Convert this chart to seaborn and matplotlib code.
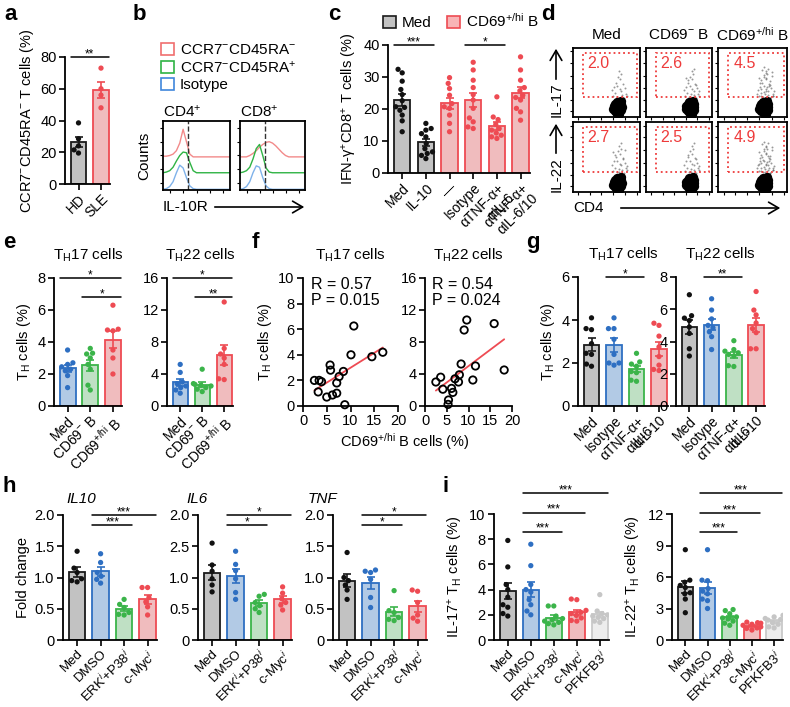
import numpy as np
import pandas as pd
import matplotlib
matplotlib.use('agg')
import matplotlib.pyplot as plt
from matplotlib.patches import Patch, Rectangle, FancyArrowPatch
import seaborn as sns

sns.set_style('ticks')
plt.rcParams['font.family'] = ['Liberation Sans', 'DejaVu Sans']
plt.rcParams['mathtext.fontset'] = 'custom'
plt.rcParams['mathtext.rm'] = 'Liberation Sans'
plt.rcParams['mathtext.it'] = 'Liberation Sans:italic'
plt.rcParams['mathtext.bf'] = 'Liberation Sans:bold'
plt.rcParams['axes.linewidth'] = 1.3
plt.rcParams['axes.edgecolor'] = 'k'
plt.rcParams['text.color'] = 'k'
plt.rcParams['axes.labelcolor'] = 'k'
plt.rcParams['xtick.color'] = 'k'
plt.rcParams['ytick.color'] = 'k'
plt.rcParams['xtick.major.width'] = 1.2
plt.rcParams['ytick.major.width'] = 1.2
plt.rcParams['xtick.major.size'] = 4
plt.rcParams['ytick.major.size'] = 4

# ---------------- data ----------------
# a
a_cats = ['HD', 'SLE']
a_hd = [38.5, 28.5, 24.0, 21.5, 19.5]
a_sle = [73.0, 60.0, 56.0, 48.0]

# b (histogram traces, % of box)
hist_x = [0, 5, 10, 15, 20, 25, 30, 35, 40, 45, 50, 55, 60, 65, 70, 75, 80, 85, 90, 95, 100]
b_cd4_red = [49, 49, 50, 52, 57, 68, 88, 70, 52, 48, 48, 48, 48, 48, 48, 48, 48, 48, 48, 48, 48]
b_cd4_green = [25, 26, 28, 33, 42, 50, 55, 54, 40, 28, 25, 25, 25, 25, 25, 25, 25, 25, 25, 25, 25]
b_cd4_blue = [1, 2, 5, 12, 25, 36, 32, 18, 6, 2, 1, 1, 1, 1, 1, 1, 1, 1, 1, 1, 1]
b_cd8_red = [48, 48, 48, 50, 53, 57, 62, 66, 69, 70, 68, 64, 59, 54, 50, 48, 48, 48, 48, 48, 48]
b_cd8_green = [25, 26, 28, 33, 45, 60, 66, 50, 32, 26, 25, 25, 25, 25, 25, 25, 25, 25, 25, 25, 25]
b_cd8_blue = [1, 2, 5, 12, 25, 35, 33, 18, 6, 2, 1, 1, 1, 1, 1, 1, 1, 1, 1, 1, 1]
b_gate = [38, 39]
b_labels = ['CCR7$^{-}$CD45RA$^{-}$', 'CCR7$^{-}$CD45RA$^{+}$', 'Isotype']

# c
c_cats = ['Med', 'IL-10', '—', 'Isotype', 'αTNF-α+\nαIL-6', 'αTNF-α+\nαIL-6/10']
c_med = [32.4, 31.3, 28.7, 26.1, 24.5, 22.6, 20.7, 20.5, 19.6, 18.1, 16.3, 12.9]
c_il10 = [15.5, 13.9, 13.4, 12.3, 11.3, 9.2, 7.6, 6.6, 6.1, 5.5, 4.5]
c_none = [29.8, 28.0, 26.4, 24.3, 21.7, 20.7, 20.2, 18.1, 15.5, 12.9]
c_iso = [34.6, 32.2, 29.0, 26.7, 24.5, 22.8, 20.2, 17.2, 16.0, 14.4, 13.9]
c_tnf6 = [23.8, 17.5, 16.7, 15.2, 13.9, 13.4, 12.5, 11.8, 11.3, 10.8]
c_tnf610 = [36.3, 32.2, 29.0, 26.7, 25.7, 24.3, 23.6, 22.8, 20.2, 19.1, 16.5]

# d (gate percentages and hand-placed events, % of box)
d_cols = ['Med', 'CD69$^{-}$ B', 'CD69$^{+/\\mathrm{hi}}$ B']
d_il17 = [2.0, 2.6, 4.5]
d_il22 = [2.7, 2.5, 4.9]
blob_x = [60, 63, 66, 69, 72, 61, 64, 67, 70, 73, 63, 66, 69, 72, 65, 68, 71, 66, 69]
blob_y = [12, 9, 7, 8, 10, 16, 14, 13, 13, 15, 19, 18, 18, 19, 22, 22, 23, 5, 5]
tail_x = [68, 73, 62, 76, 70, 59, 79, 66, 72, 64, 70, 77, 61, 71, 67, 80, 58, 69, 74, 65,
          63, 72, 81, 68, 75, 60, 78, 66, 62, 73, 70, 57, 76, 64, 71, 66, 79, 69, 74, 61,
          70, 75, 63, 78, 67, 72, 59, 74, 65, 70]
tail_y = [28, 32, 35, 27, 40, 30, 34, 45, 38, 50, 55, 42, 44, 62, 58, 31, 39, 66, 48, 29,
          53, 70, 37, 33, 47, 57, 60, 36, 41, 26, 64, 34, 52, 68, 43, 61, 31, 56, 45, 49,
          38, 27, 30, 65, 72, 51, 40, 35, 46, 59]

# e
e_cats = ['Med', 'CD69$^{-}$ B', 'CD69$^{+/\\mathrm{hi}}$ B']
e17_med = [3.5, 2.7, 2.6, 2.45, 2.3, 2.2, 1.9, 1.15]
e17_neg = [3.6, 3.3, 3.25, 3.0, 2.6, 2.3, 1.3, 1.0]
e17_pos = [6.3, 4.8, 4.75, 4.7, 3.5, 3.0, 2.0]
e22_med = [5.2, 4.2, 3.0, 2.8, 2.5, 2.3, 2.0, 1.6]
e22_neg = [4.6, 2.8, 2.7, 2.6, 2.5, 2.3, 2.1, 1.8]
e22_pos = [13.0, 7.2, 6.5, 6.0, 5.2, 3.4, 3.3]

# f
f17_x = [2.4, 3.4, 3.9, 3.2, 5.0, 6.2, 7.1, 5.7, 5.8, 7.1, 7.6, 8.5, 10.1, 10.7, 14.5, 16.8, 8.8]
f17_y = [2.0, 2.0, 1.9, 1.1, 0.7, 0.86, 1.0, 3.2, 2.8, 1.8, 2.3, 2.7, 4.0, 6.25, 3.85, 4.2, 0.1]
f22_x = [2.5, 3.6, 4.1, 6.1, 6.4, 5.4, 6.9, 7.7, 7.9, 8.3, 9.0, 9.6, 11.6, 11.0, 15.9, 18.2, 5.3]
f22_y = [3.0, 3.6, 2.1, 2.2, 1.7, 0.75, 3.4, 3.0, 3.9, 5.25, 9.5, 10.75, 5.0, 3.25, 10.3, 4.5, 0.2]

# g
g_cats = ['Med', 'Isotype', 'αTNF-α+\nαIL-6', 'αIL-10']
g17_med = [4.1, 3.6, 3.55, 2.9, 2.45, 2.4, 1.95, 1.85]
g17_iso = [4.1, 3.6, 3.6, 3.1, 2.4, 2.0, 2.0, 1.9]
g17_ab = [2.45, 2.05, 1.95, 1.85, 1.6, 1.55, 1.2, 1.15]
g17_il10 = [3.85, 3.75, 3.25, 2.75, 2.3, 1.9, 1.65, 1.7]
g22_med = [6.9, 5.6, 5.45, 5.3, 4.9, 4.5, 3.55, 3.1]
g22_iso = [6.65, 5.95, 5.4, 5.0, 4.85, 4.6, 4.3, 3.5]
g22_ab = [4.05, 3.5, 3.4, 3.3, 3.2, 3.1, 2.5, 2.45]
g22_il10 = [7.1, 5.95, 5.65, 5.15, 4.8, 4.55, 3.55, 3.55]

# h
h_cats = ['Med', 'DMSO', 'ERK$^{i}$+P38$^{i}$', 'c-Myc$^{i}$']
h10_med = [1.42, 1.15, 1.08, 0.98, 0.95, 0.93]
h10_dmso = [1.38, 1.24, 1.08, 1.02, 0.97, 0.91]
h10_erk = [0.65, 0.57, 0.52, 0.44, 0.41, 0.40]
h10_myc = [0.84, 0.84, 0.68, 0.61, 0.53, 0.40]
h6_med = [1.55, 1.2, 1.1, 0.98, 0.88, 0.77]
h6_dmso = [1.42, 1.21, 1.11, 0.98, 0.76, 0.65]
h6_erk = [0.73, 0.7, 0.6, 0.55, 0.5, 0.44]
h6_myc = [0.85, 0.75, 0.66, 0.6, 0.56, 0.48]
htnf_med = [1.4, 1.0, 0.95, 0.88, 0.8, 0.65]
htnf_dmso = [1.12, 1.1, 1.08, 0.97, 0.68, 0.52]
htnf_erk = [0.79, 0.47, 0.44, 0.36, 0.33, 0.31]
htnf_myc = [0.8, 0.78, 0.6, 0.4, 0.35, 0.3]
h_yticks = [0, 0.5, 1.0, 1.5, 2.0]
h_ylab = ['0', '0.5', '1.0', '1.5', '2.0']
h6_ylab = ['0', '0.5', '1.0', '2.5', '2.0']

# i
i_cats = ['Med', 'DMSO', 'ERK$^{i}$+P38$^{i}$', 'c-Myc$^{i}$', 'PFKFB3$^{i}$']
i17_med = [7.9, 5.8, 4.4, 4.0, 3.4, 2.8, 2.6, 2.1, 1.9]
i17_dmso = [7.6, 5.9, 4.4, 4.0, 3.8, 3.2, 2.8, 2.3, 2.0]
i17_erk = [2.7, 2.7, 1.9, 1.7, 1.6, 1.5, 1.4, 1.3, 1.2]
i17_myc = [3.25, 3.2, 2.35, 2.2, 2.1, 1.95, 1.75, 1.55, 1.5]
i17_pfk = [3.6, 2.3, 2.1, 2.0, 1.9, 1.8, 1.7, 1.5, 1.4]
i22_med = [8.6, 5.7, 5.5, 5.2, 5.0, 4.5, 4.4, 3.9, 2.6]
i22_dmso = [8.6, 5.7, 5.65, 4.9, 4.65, 4.4, 3.9, 3.75, 3.0]
i22_erk = [2.9, 2.8, 2.5, 2.2, 2.1, 2.0, 1.8, 1.6, 1.4]
i22_myc = [1.7, 1.65, 1.6, 1.5, 1.4, 1.25, 1.15, 1.1, 0.95]
i22_pfk = [2.35, 2.2, 2.05, 1.95, 1.9, 1.65, 1.5, 1.25, 1.15]

# ---------------- styles ----------------
# fill, edge, dots
STY = {
    'grey': ('#c2c2c2', '#1a1a1a', '#111111'),
    'blue': ('#a9c9ee', '#2e6fc2', '#2e6fc2'),
    'green': ('#b9e5c0', '#3bb44a', '#3bb44a'),
    'red': ('#f8b4b6', '#ee4b53', '#ee4b53'),
    'lgrey': ('#ededed', '#c9c9c9', '#c6c6c6'),
}
RED = '#ee3b3b'
FS_TICK = 10.5
FS_CAT = 10
FS_LAB = 10.5
FS_TTL = 11

W, H = 790, 707
fig = plt.figure(figsize=(W / 100, H / 100), dpi=100)


def px(x, y):
    return (x / W, 1 - y / H)


def add_ax(x0, x1, y0, y1):
    return fig.add_axes([x0 / W, 1 - y1 / H, (x1 - x0) / W, (y1 - y0) / H])


def arrow(x0, y0, x1, y1):
    fig.add_artist(FancyArrowPatch(px(x0, y0), px(x1, y1), transform=fig.transFigure,
                                   arrowstyle='->,head_length=0.6,head_width=0.35',
                                   mutation_scale=12, lw=1.2, color='k'))


def bar_panel(ax, groups, styles, ymax, yticks, labels, ylabel=None, yticklabels=None,
              cat_fs=FS_CAT):
    rows = []
    for k, g in enumerate(groups):
        for v in g:
            rows.append((str(k), v))
    df = pd.DataFrame(rows, columns=['grp', 'val'])
    n = len(groups)
    keys = [str(k) for k in range(n)]
    fills = {keys[k]: STY[s][0] for k, s in enumerate(styles)}
    dots = {keys[k]: STY[s][2] for k, s in enumerate(styles)}
    edges = [STY[s][1] for s in styles]
    sns.barplot(data=df, x='grp', y='val', hue='grp', order=keys, hue_order=keys,
                palette=fills, errorbar=None, width=0.7, legend=False, ax=ax)
    for p, ec in zip(ax.patches, edges):
        p.set_edgecolor(ec)
        p.set_linewidth(1.3)
    stats = df.groupby('grp')['val'].agg(['mean', 'sem'])
    for k in range(n):
        m, s = stats.loc[keys[k]]
        ax.errorbar(k, m, yerr=s, color=edges[k], capsize=3, elinewidth=1.2,
                    capthick=1.2, zorder=2.5)
    sns.swarmplot(data=df, x='grp', y='val', hue='grp', order=keys, hue_order=keys,
                  palette=dots, size=3.8, legend=False, ax=ax, zorder=3)
    ax.set_xlim(-0.6, n - 0.6)
    ax.set_ylim(0, ymax)
    ax.set_yticks(yticks)
    if yticklabels is not None:
        ax.set_yticklabels(yticklabels)
    ax.set_xticks(range(n))
    ax.set_xticklabels(labels, rotation=45, ha='right', va='top',
                       rotation_mode='anchor', fontsize=cat_fs, linespacing=1.0)
    ax.tick_params(axis='y', labelsize=FS_TICK, pad=2)
    ax.tick_params(axis='x', pad=1.5)
    ax.set_xlabel('')
    ax.set_ylabel(ylabel if ylabel else '', fontsize=FS_LAB, labelpad=3)
    sns.despine(ax=ax)


def sig(ax, i, j, y, txt):
    ax.plot([i - 0.35, j + 0.35], [y, y], color='k', lw=1.1, clip_on=False)
    ax.text((i + j) / 2, y, txt, ha='center', va='baseline', fontsize=8.5)


def letter(x, y, s):
    fig.text(*px(x, y), s, fontsize=16, fontweight='bold', ha='left', va='center')


# ---------------- a ----------------
ax = add_ax(65, 110, 57, 184)
bar_panel(ax, [a_hd, a_sle], ['grey', 'red'], 80, [0, 20, 40, 60, 80], a_cats,
          ylabel='CCR7$^{-}$CD45RA$^{-}$ T cells (%)')
sig(ax, 0, 1, 80, '**')

# ---------------- b ----------------
b_sets = [('CD4$^{+}$', b_cd4_red, b_cd4_green, b_cd4_blue, b_gate[0], (163, 230)),
          ('CD8$^{+}$', b_cd8_red, b_cd8_green, b_cd8_blue, b_gate[1], (240, 305))]
for k, (ttl, r, g, bl, gate, (x0, x1)) in enumerate(b_sets):
    ax = add_ax(x0, x1, 121, 190)
    sns.lineplot(x=hist_x, y=r, color='#f28a8a', lw=1.0, ax=ax)
    sns.lineplot(x=hist_x, y=g, color='#2fb344', lw=1.0, ax=ax)
    sns.lineplot(x=hist_x, y=bl, color='#7fb2ea', lw=1.0, ax=ax)
    ax.axvline(gate, color='#333333', ls='--', lw=1.0)
    ax.set_xlim(0, 100)
    ax.set_ylim(0, 100)
    ax.set_xticks([10, 30, 50, 70, 90])
    ax.set_yticks([10, 30, 50, 70, 90])
    ax.set_xticklabels([])
    ax.set_yticklabels([])
    ax.tick_params(length=2, width=0.8)
    ax.set_title(ttl, loc='left', fontsize=11, pad=3)
    if k == 0:
        ax.set_ylabel('Counts', fontsize=11, labelpad=3)
b_handles = [Patch(facecolor='white', edgecolor=c, lw=1.2) for c in ['#f06e6e', '#2fb344', '#3f86dc']]
fig.legend(b_handles, b_labels, loc='upper left', bbox_to_anchor=px(161, 43), frameon=False,
           fontsize=11, handlelength=0.85, handleheight=0.85, handletextpad=0.4,
           labelspacing=0.15, borderaxespad=0, borderpad=0)
fig.text(*px(163, 207), 'IL-10R', fontsize=11, ha='left', va='center')
arrow(212, 207, 307, 207)

# ---------------- c ----------------
ax = add_ax(388, 530, 45, 173)
bar_panel(ax, [c_med, c_il10, c_none, c_iso, c_tnf6, c_tnf610],
          ['grey', 'grey', 'red', 'red', 'red', 'red'], 40, [0, 10, 20, 30, 40], c_cats,
          ylabel='IFN-γ$^{+}$CD8$^{+}$ T cells (%)')
sig(ax, 0, 1, 40, '***')
sig(ax, 3, 4, 40, '*')
c_handles = [Patch(facecolor=STY['grey'][0], edgecolor=STY['grey'][1], lw=1.2),
             Patch(facecolor=STY['red'][0], edgecolor=STY['red'][1], lw=1.2)]
fig.legend(c_handles, ['Med', 'CD69$^{+/\\mathrm{hi}}$ B'], loc='upper left',
           bbox_to_anchor=px(383, 12), ncol=2, frameon=False, fontsize=11,
           handlelength=0.85, handleheight=0.85, handletextpad=0.4, columnspacing=1.0,
           borderaxespad=0, borderpad=0)

# ---------------- d ----------------
col_x = [(573, 640), (646, 712), (718, 787)]
row_y = [(48, 117), (122, 192)]
for r, vals in enumerate([d_il17, d_il22]):
    for ci, v in enumerate(vals):
        ax = add_ax(col_x[ci][0], col_x[ci][1], row_y[r][0], row_y[r][1])
        n = int(round(v * 10))
        sns.scatterplot(x=tail_x[:n], y=tail_y[:n], ax=ax, s=2, color='#555555',
                        linewidth=0, alpha=0.6)
        sns.scatterplot(x=blob_x, y=[yy - 2 * r for yy in blob_y], ax=ax, s=45,
                        color='k', linewidth=0)
        ax.add_patch(Rectangle((15, 29), 81, 64, fill=False, ec=RED, ls=':', lw=1.3))
        ax.text(22, 78, '%.1f' % v, color=RED, fontsize=11.5, va='center', ha='left')
        ax.set_xlim(0, 100)
        ax.set_ylim(0, 100)
        ax.set_xticks([8, 25, 42, 60, 78, 95])
        ax.set_yticks([8, 25, 42, 60, 78, 95])
        ax.set_xticklabels([])
        ax.set_yticklabels([])
        ax.tick_params(length=2, width=0.8)
        for sp in ax.spines.values():
            sp.set_visible(True)
for ci, t in enumerate(d_cols):
    fig.text(*px((col_x[ci][0] + col_x[ci][1]) / 2, 35), t, fontsize=11,
             ha='center', va='center')
fig.text(*px(557, 100), 'IL-17', fontsize=11, rotation=90, ha='center', va='center')
arrow(556, 82, 556, 46)
fig.text(*px(557, 175), 'IL-22', fontsize=11, rotation=90, ha='center', va='center')
arrow(556, 156, 556, 121)
fig.text(*px(573, 208), 'CD4', fontsize=11, ha='left', va='center')
arrow(618, 208, 783, 208)

# ---------------- e ----------------
ax = add_ax(54, 122, 278, 406)
bar_panel(ax, [e17_med, e17_neg, e17_pos], ['blue', 'green', 'red'], 8, [0, 2, 4, 6, 8],
          e_cats, ylabel='T$_{\\mathrm{H}}$ cells (%)')
ax.set_title('T$_{\\mathrm{H}}$17 cells', fontsize=FS_TTL, pad=13)
sig(ax, 0, 2, 8, '*')
sig(ax, 1, 2, 6.8, '*')
ax = add_ax(167, 233, 278, 406)
bar_panel(ax, [e22_med, e22_neg, e22_pos], ['blue', 'green', 'red'], 16, [0, 4, 8, 12, 16],
          e_cats)
ax.set_title('T$_{\\mathrm{H}}$22 cells', fontsize=FS_TTL, pad=13)
sig(ax, 0, 2, 16, '*')
sig(ax, 1, 2, 13.6, '**')

# ---------------- f ----------------
f_sets = [(f17_x, f17_y, 10, [0, 2, 4, 6, 8, 10], 'R = 0.57\nP = 0.015', 'T$_{\\mathrm{H}}$17 cells', (303, 398)),
          (f22_x, f22_y, 16, [0, 4, 8, 12, 16], 'R = 0.54\nP = 0.024', 'T$_{\\mathrm{H}}$22 cells', (425, 512))]
for k, (xs, ys, ymax, yt, rtxt, ttl, (x0, x1)) in enumerate(f_sets):
    ax = add_ax(x0, x1, 278, 406)
    sns.regplot(x=xs, y=ys, ax=ax, ci=None, truncate=True,
                scatter_kws=dict(s=28, facecolors='none', edgecolors='k', color='k',
                                 linewidths=1.3, alpha=1, clip_on=False, zorder=3),
                line_kws=dict(color='#ee4b53', lw=1.3))
    ax.set_xlim(0, 20)
    ax.set_ylim(0, ymax)
    ax.set_xticks([0, 5, 10, 15, 20])
    ax.set_yticks(yt)
    ax.tick_params(labelsize=FS_TICK, pad=2)
    ax.text(0.08, 1.01, rtxt, transform=ax.transAxes, va='top', ha='left',
            fontsize=11.5, linespacing=1.1)
    ax.set_title(ttl, fontsize=FS_TTL, pad=13)
    if k == 0:
        ax.set_ylabel('T$_{\\mathrm{H}}$ cells (%)', fontsize=FS_LAB, labelpad=3)
    sns.despine(ax=ax)
fig.text(*px(405, 442), 'CD69$^{+/\\mathrm{hi}}$ B cells (%)', fontsize=FS_LAB,
         ha='center', va='center')

# ---------------- g ----------------
g_styles = ['grey', 'blue', 'green', 'red']
ax = add_ax(578, 668, 277, 406)
bar_panel(ax, [g17_med, g17_iso, g17_ab, g17_il10], g_styles, 6, [0, 2, 4, 6], g_cats,
          ylabel='T$_{\\mathrm{H}}$ cells (%)')
ax.set_title('T$_{\\mathrm{H}}$17 cells', fontsize=FS_TTL, pad=13)
sig(ax, 1, 2, 6, '*')
ax = add_ax(676, 765, 277, 406)
bar_panel(ax, [g22_med, g22_iso, g22_ab, g22_il10], g_styles, 8, [0, 2, 4, 6, 8], g_cats)
ax.set_title('T$_{\\mathrm{H}}$22 cells', fontsize=FS_TTL, pad=13)
sig(ax, 1, 2, 8, '**')

# ---------------- h ----------------
h_sets = [('IL10', [h10_med, h10_dmso, h10_erk, h10_myc], h_ylab, '***', (63, 157), 66),
          ('IL6', [h6_med, h6_dmso, h6_erk, h6_myc], h6_ylab, '*', (198, 292), 186),
          ('TNF', [htnf_med, htnf_dmso, htnf_erk, htnf_myc], h_ylab, '*', (333, 427), 308)]
for k, (ttl, grps, ylab, star, (x0, x1), tx) in enumerate(h_sets):
    ax = add_ax(x0, x1, 515, 640)
    bar_panel(ax, grps, g_styles, 2.0, h_yticks, h_cats,
              ylabel='Fold change' if k == 0 else None, yticklabels=ylab, cat_fs=9.5)
    fig.text(*px(tx, 499), ttl, fontsize=FS_TTL, style='italic', ha='left', va='center')
    sig(ax, 1, 3, 2.0, star)
    sig(ax, 1, 2, 1.84, star)

# ---------------- i ----------------
i_styles = ['grey', 'blue', 'green', 'red', 'lgrey']
ax = add_ax(494, 609, 514, 640)
bar_panel(ax, [i17_med, i17_dmso, i17_erk, i17_myc, i17_pfk], i_styles, 10,
          [0, 2, 4, 6, 8, 10], i_cats, ylabel='IL-17$^{+}$ T$_{\\mathrm{H}}$ cells (%)',
          cat_fs=9.5)
sig(ax, 1, 2, 8.6, '***')
sig(ax, 1, 3, 10.1, '***')
sig(ax, 1, 4, 11.65, '***')
ax = add_ax(672, 783, 514, 640)
bar_panel(ax, [i22_med, i22_dmso, i22_erk, i22_myc, i22_pfk], i_styles, 12,
          [0, 3, 6, 9, 12], i_cats, ylabel='IL-22$^{+}$ T$_{\\mathrm{H}}$ cells (%)',
          cat_fs=9.5)
sig(ax, 1, 2, 10.3, '***')
sig(ax, 1, 3, 12.1, '***')
sig(ax, 1, 4, 14.0, '***')

# ---------------- panel letters ----------------
for x, y, s in [(4, 14, 'a'), (133, 14, 'b'), (328, 14, 'c'), (541, 14, 'd'),
                (3, 242, 'e'), (252, 242, 'f'), (526, 242, 'g'), (3, 486, 'h'),
                (443, 486, 'i')]:
    letter(x, y, s)

fig.savefig('out.png', dpi=100)
